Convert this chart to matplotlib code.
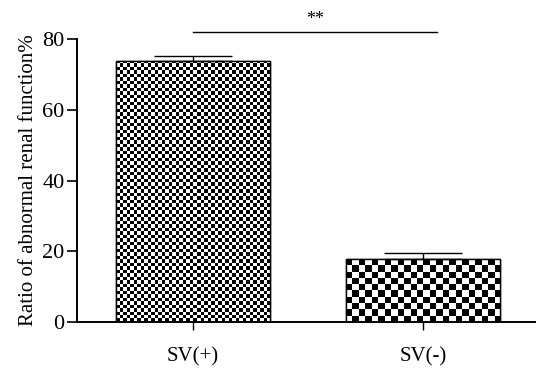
import matplotlib
matplotlib.use("Agg")
import matplotlib.pyplot as plt
import numpy as np

plt.rcParams['font.family'] = ['Liberation Serif', 'DejaVu Serif']

# Data
groups = ['SV(+)', 'SV(-)']
ratios = [73.8, 17.8]
errors = [1.4, 1.7]
yticks = [0, 20, 40, 60, 80]
sig_label = '**'

# checker cells across/up each bar (texture only)
checker_cells = [(44, 75), (24, 10)]

fig = plt.figure(figsize=(5.36, 3.68), dpi=100)
ax = fig.add_axes([0.1437, 0.125, 0.8563, 0.769])

x = np.arange(len(groups))
bars = ax.bar(x, ratios, width=0.67, color='white', edgecolor='black',
              linewidth=1.0, zorder=2)

for bar, (nx, ny) in zip(bars, checker_cells):
    board = (np.add.outer(np.arange(ny), np.arange(nx)) % 2).astype(float)
    x0, y0 = bar.get_x(), bar.get_y()
    im = ax.imshow(board, cmap='gray', vmin=0, vmax=1, interpolation='nearest',
                   extent=(x0, x0 + bar.get_width(), y0, y0 + bar.get_height()),
                   aspect='auto', zorder=2.5)
    im.set_clip_path(bar)
    # re-draw border over the texture
    ax.bar(bar.get_x() + bar.get_width() / 2, bar.get_height(), width=bar.get_width(),
           fill=False, edgecolor='black', linewidth=1.0, zorder=3)

ax.errorbar(x, ratios, yerr=[[0, 0], errors], fmt='none', ecolor='black',
            elinewidth=1.0, capsize=28, capthick=1.0, zorder=4)

ax.set_xlim(-0.504, 1.49)
ax.set_ylim(0, 80)
ax.set_yticks(yticks)
ax.set_xticks(x)
ax.set_xticklabels(groups, fontsize=15)
ax.tick_params(axis='y', labelsize=16, length=7, width=1.2, direction='out', pad=2)
ax.tick_params(axis='x', length=6, width=1.0, direction='out', pad=12)
for s in ['top', 'right']:
    ax.spines[s].set_visible(False)
for s in ['left', 'bottom']:
    ax.spines[s].set_linewidth(1.4)

ax.set_ylabel('Ratio of abnormal renal function%', fontsize=15, labelpad=3)

# significance bracket
sig_y = 82
ax.plot([x[0], x[1] + 0.06], [sig_y, sig_y], color='black', lw=1.0, clip_on=False)
ax.text(0.5 + 0.03, sig_y + 1.2, sig_label, ha='center', va='bottom', fontsize=13)

fig.savefig('out.png', dpi=100)
